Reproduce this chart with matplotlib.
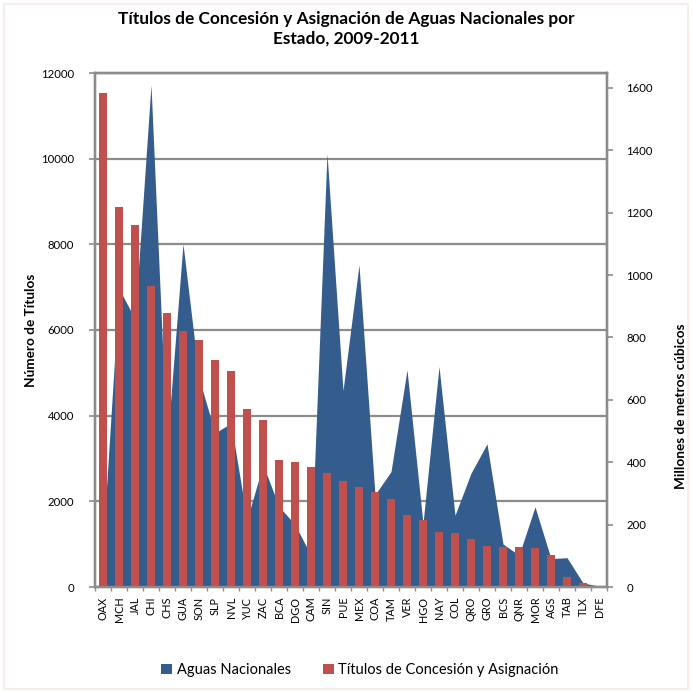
import matplotlib
matplotlib.use("Agg")
import matplotlib.pyplot as plt
import numpy as np
from matplotlib.patches import Patch, Rectangle

plt.rcParams['font.family'] = ['Lato', 'DejaVu Sans']

estados = ["OAX", "MCH", "JAL", "CHI", "CHS", "GUA", "SON", "SLP", "NVL", "YUC",
           "ZAC", "BCA", "DGO", "CAM", "SIN", "PUE", "MEX", "COA", "TAM", "VER",
           "HGO", "NAY", "COL", "QRO", "GRO", "BCS", "QNR", "MOR", "AGS", "TAB",
           "TLX", "DFE"]
titulos = [11540, 8870, 8450, 7030, 6390, 5980, 5770, 5300, 5040, 4160,
           3900, 2970, 2920, 2800, 2660, 2480, 2330, 2220, 2050, 1680,
           1560, 1280, 1260, 1120, 960, 935, 935, 910, 750, 230,
           90, 5]
aguas = [140, 957, 859, 1610, 450, 1100, 670, 494, 525, 216,
         392, 258, 200, 101, 1390, 630, 1033, 296, 370, 696,
         204, 707, 230, 365, 459, 138, 102, 257, 91, 94,
         13, 3]
left_ticks = [0, 2000, 4000, 6000, 8000, 10000, 12000]
right_ticks = [0, 200, 400, 600, 800, 1000, 1200, 1400, 1600]

BLUE = "#345D8D"
RED = "#C0504D"
GRID = "#8C8C8C"

fig = plt.figure(figsize=(6.92, 6.91), dpi=100)
rect = [95/692, 1-587/691, (607-95)/692, (587-73)/691]
ax_bg = fig.add_axes(rect)
ax_area = ax_bg.twinx()
ax_bar = ax_bg.twinx()
ax_bg.set_zorder(0)
ax_area.set_zorder(1)
ax_bar.set_zorder(2)
ax_area.patch.set_visible(False)
ax_bar.patch.set_visible(False)

x = np.arange(len(estados))
L_MAX = 12000
R_MAX = 1648

# background grid (left scale)
ax_bg.set_ylim(0, L_MAX)
ax_bg.set_yticks(left_ticks)
ax_bg.yaxis.grid(True, color=GRID, linewidth=1.6)
ax_bg.set_axisbelow(True)
ax_bg.set_xlim(-0.5, len(estados) - 0.5)
ax_bg.set_xticks(x)
ax_bg.set_xticklabels(estados, rotation=90, fontsize=7.8)
ax_bg.set_xticks(np.arange(-0.5, len(estados), 1), minor=True)
ax_bg.tick_params(axis='x', which='major', length=0, pad=7)
ax_bg.tick_params(axis='x', which='minor', length=3, color=GRID, width=1)
ax_bg.tick_params(axis='y', length=4, color=GRID, width=1.2, labelsize=8.2, pad=11)
ax_bg.set_ylabel("Número de Títulos", fontsize=9.8, fontweight='bold', labelpad=3)

# area (right scale)
ax_area.fill_between(x, aguas, 0, color=BLUE, linewidth=0)
ax_area.set_ylim(0, R_MAX)
ax_area.set_yticks(right_ticks)
ax_area.tick_params(axis='y', length=4, color=GRID, width=1.2, labelsize=8.2, pad=10)
ax_area.set_xlim(-0.5, len(estados) - 0.5)

# bars (left scale)
ax_bar.bar(x, titulos, width=0.44, color=RED, linewidth=0)
ax_bar.set_ylim(0, L_MAX)
ax_bar.set_xlim(-0.5, len(estados) - 0.5)
ax_bar.set_yticks([])

for a in (ax_bg, ax_area, ax_bar):
    for s in a.spines.values():
        s.set_color(GRID)
        s.set_linewidth(1.6)

fig.text(681/692, 1-406/691, "Millones de metros cúbicos", rotation=90,
         ha='center', va='center', fontsize=9.8, fontweight='bold')

fig.suptitle("Títulos de Concesión y Asignación de Aguas Nacionales por\nEstado, 2009-2011",
             y=1-11/691, va='top', fontsize=12.4, fontweight='bold', linespacing=1.3)

handles = [Patch(facecolor=BLUE, edgecolor='none'), Patch(facecolor=RED, edgecolor='none')]
fig.legend(handles, ["Aguas Nacionales", "Títulos de Concesión y Asignación"],
           loc='center', bbox_to_anchor=(360/692, 1-670/691), ncol=2, frameon=False,
           fontsize=10.5, handlelength=0.75, handleheight=0.75, handletextpad=0.3,
           columnspacing=2.2)

fig.patches.append(Rectangle((4/692, 2/691), 1-8/692, 1-6/691, transform=fig.transFigure,
                             fill=False, edgecolor="#F6ECEC", linewidth=1.5))

fig.savefig("out.png", dpi=100)
